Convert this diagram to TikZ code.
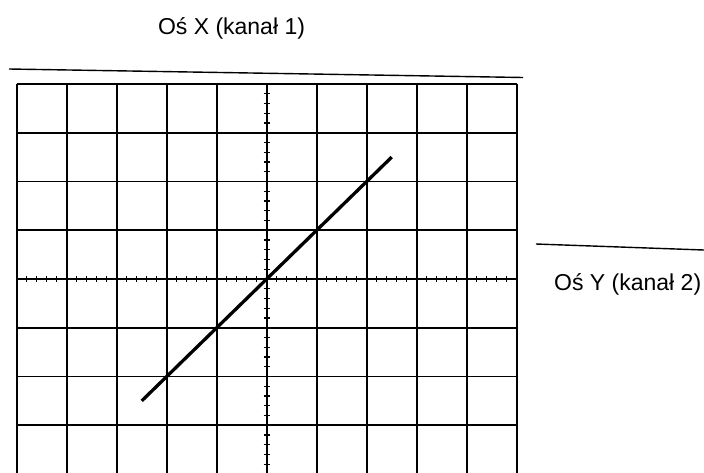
\documentclass[tikz,border=0pt]{standalone}
\usepackage{fontspec}
\setmainfont{Liberation Sans}
\begin{document}
\begin{tikzpicture}[x=1pt,y=-1pt,
  gridline/.style={line width=1.7pt, black},
  tickmark/.style={line width=1.3pt, black},
  trace/.style={line width=3.3pt, black},
  refline/.style={line width=1.4pt, black},
  axislabel/.style={font=\fontsize{23}{27}\selectfont, inner sep=0pt}]
\useasboundingbox (0,0) rectangle (704,472);
\fill[white] (0,0) rectangle (704,472);
\begin{scope}
\clip (0,0) rectangle (704,472);
% grid
\foreach \i in {0,...,10}
  \draw[gridline] ({16.7+50*\i},84) -- ({16.7+50*\i},474);
\foreach \j in {0,...,8}
  \draw[gridline] (16.7,{84+48.75*\j}) -- (516.7,{84+48.75*\j});
% minor ticks on central axes
\foreach \k in {1,...,49}
  \draw[tickmark] ({16.7+10*\k},276) -- ({16.7+10*\k},282);
\foreach \k in {1,...,39}
  \draw[tickmark] (263.7,{84+9.75*\k}) -- (269.7,{84+9.75*\k});
\end{scope}
% diagonal trace
\coordinate (d1) at (141.7,400.9);
\coordinate (d2) at (391.7,157.1);
\draw[trace] (d1) -- (d2);
% labels and their lines
\node[axislabel, anchor=base] (xlab) at (231.5,34) {Oś X (kanał 1)};
\coordinate (xl1) at (9,69);
\coordinate (xl2) at (523,77.5);
\draw[refline] (xl1) -- (xl2);
\node[axislabel, anchor=base west] (ylab) at (554,290) {Oś Y (kanał 2)};
\coordinate (yl1) at (536,244);
\coordinate (yl2) at (704,250);
\draw[refline] (yl1) -- (yl2);
\end{tikzpicture}
\end{document}
